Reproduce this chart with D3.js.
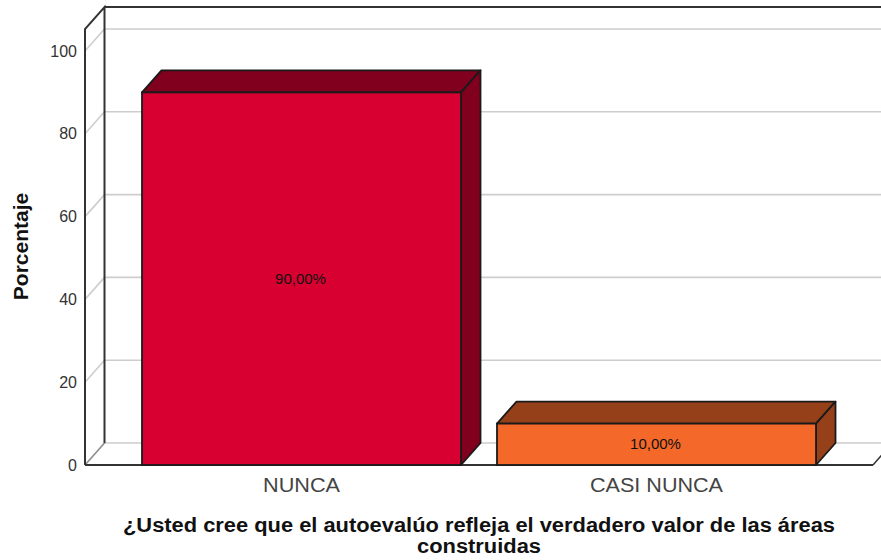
<!DOCTYPE html>
<html><head><meta charset="utf-8">
<script src="https://cdn.jsdelivr.net/npm/d3@7"></script>
<style>html,body{margin:0;padding:0;background:#fff}svg{display:block}text{font-family:"Liberation Sans",Arial,sans-serif}</style>
</head><body><svg id="c" width="881" height="560"></svg>
<script>
const categories = ["NUNCA", "CASI NUNCA"];
const values = [90, 10];
const valueLabels = ["90,00%", "10,00%"];
const frontColors = ["#d80030", "#f4682a"];
const topColors = ["#80001e", "#96401a"];
const yTicks = [0, 20, 40, 60, 80, 100];
const yTitle = "Porcentaje";
const xTitleLines = ["¿Usted cree que el autoevalúo refleja el verdadero valor de las áreas", "construidas"];

const svg = d3.select("#c");
const dx = 19.5, dy = -22;
const y = d3.scaleLinear().domain([0, 100]).range([465, 51]);
const x = d3.scaleBand().domain(categories).range([85, 873]).paddingInner(36/355).paddingOuter(57/355);
const yTop = 105.3;
const axisC = "#333", gridC = "#cdcdcd";

const g = svg.append("g");
g.selectAll(".grid").data(yTicks).join("line")
  .attr("x1", 85 + dx).attr("x2", 891)
  .attr("y1", d => y(d) + dy).attr("y2", d => y(d) + dy)
  .attr("stroke", gridC).attr("stroke-width", 1.6);
g.selectAll(".diag").data(yTicks).join("line")
  .attr("x1", 85).attr("x2", 85 + dx)
  .attr("y1", d => y(d)).attr("y2", d => y(d) + dy)
  .attr("stroke", d => d === 0 ? "#8c8c8c" : gridC).attr("stroke-width", 1.6);
g.append("line").attr("x1", 873).attr("x2", 873 + dx).attr("y1", y(0)).attr("y2", y(0) + dy)
  .attr("stroke", axisC).attr("stroke-width", 1.5);

g.append("path").attr("fill", "none").attr("stroke", axisC).attr("stroke-width", 2)
  .attr("d", `M85,${y(0)}V${y(yTop)}L${85+dx},${y(yTop)+dy}V${y(0)+dy}M${85+dx},${y(yTop)+dy}H881M85,${y(0)}H873`);

const bars = svg.selectAll(".bar").data(categories).join("g");
const stroke = "#1a1a1a";
bars.append("path")
  .attr("fill", (d,i) => topColors[i]).attr("stroke", stroke).attr("stroke-width", 1.8).attr("stroke-linejoin","round")
  .attr("d", (d,i) => { const l=x(d), r=l+x.bandwidth(), t=y(values[i]);
    return `M${l},${t}L${l+dx},${t+dy}H${r+dx}L${r},${t}Z`; });
bars.append("path")
  .attr("fill", (d,i) => topColors[i]).attr("stroke", stroke).attr("stroke-width", 1.8).attr("stroke-linejoin","round")
  .attr("d", (d,i) => { const r=x(d)+x.bandwidth(), t=y(values[i]);
    return `M${r},${t}L${r+dx},${t+dy}V${y(0)+dy}L${r},${y(0)}Z`; });
bars.append("rect")
  .attr("x", d => x(d)).attr("width", x.bandwidth())
  .attr("y", (d,i) => y(values[i])).attr("height", (d,i) => y(0) - y(values[i]))
  .attr("fill", (d,i) => frontColors[i]).attr("stroke", stroke).attr("stroke-width", 1.8);
bars.append("text")
  .attr("x", d => x(d) + x.bandwidth()/2 - 1)
  .attr("y", (d,i) => (y(values[i]) + y(0))/2 + 5)
  .attr("text-anchor","middle").attr("font-size", 15).attr("fill", "#111")
  .text((d,i) => valueLabels[i]);

svg.selectAll(".yl").data(yTicks).join("text")
  .attr("x", 77).attr("y", d => y(d) + 5.5).attr("text-anchor","end")
  .attr("font-size", 16).attr("fill", "#333").text(d => d);
svg.selectAll(".xl").data(categories).join("text")
  .attr("x", d => x(d) + x.bandwidth()/2).attr("y", 492).attr("text-anchor","middle")
  .attr("font-size", 20).attr("fill", "#444").attr("textLength", d => d.length > 6 ? 133 : 77)
  .attr("lengthAdjust","spacingAndGlyphs").text(d => d);
svg.append("text").attr("transform","translate(28,246.5) rotate(-90)").attr("text-anchor","middle")
  .attr("font-size", 21).attr("font-weight","bold").attr("fill","#111").text(yTitle);
svg.selectAll(".xt").data(xTitleLines).join("text")
  .attr("x", 479).attr("y", (d,i) => 532 + i*21).attr("text-anchor","middle")
  .attr("font-size", 20).attr("font-weight","bold").attr("fill","#111")
  .attr("textLength", (d,i) => i ? 124 : 712).attr("lengthAdjust","spacingAndGlyphs").text(d => d);
</script></body></html>
